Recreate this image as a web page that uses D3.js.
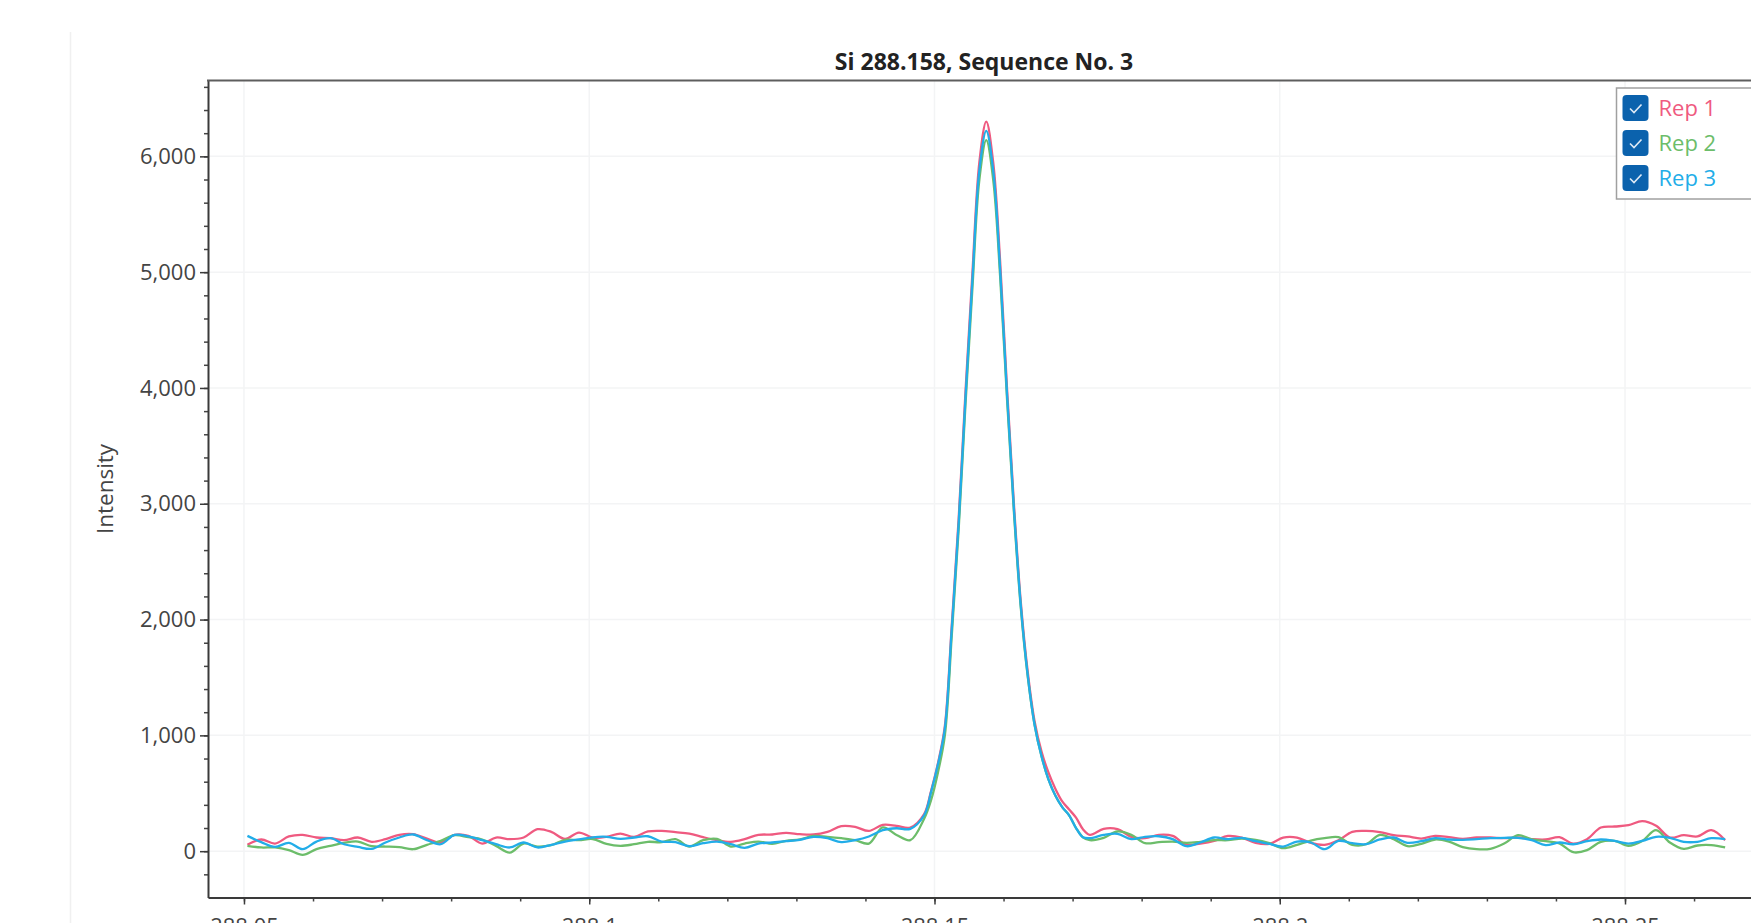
<!DOCTYPE html>
<html>
<head>
<meta charset="utf-8">
<script src="https://cdn.jsdelivr.net/npm/d3@7"></script>
<style>
    body { margin: 0; background: #ffffff; }
    svg { display: block; font-family: "Open Sans", "Noto Sans", sans-serif; }
</style>
</head>
<body>
<svg width="1751" height="923"></svg>
<script>
var svg = d3.select('svg');

//wavelength of every sample (nm), shared by the three replicates
var wavelengths = [
    288.0505, 288.0525, 288.0545, 288.0565, 288.0585, 288.0605, 288.0625, 288.0645, 288.0665, 288.0685,
    288.0705, 288.0725, 288.0745, 288.0765, 288.0785, 288.0805, 288.0825, 288.0845, 288.0865, 288.0885,
    288.0905, 288.0925, 288.0945, 288.0965, 288.0985, 288.1005, 288.1025, 288.1045, 288.1065, 288.1085,
    288.1105, 288.1125, 288.1145, 288.1165, 288.1185, 288.1205, 288.1225, 288.1245, 288.1265, 288.1285,
    288.1305, 288.1325, 288.1345, 288.1365, 288.1385, 288.1405, 288.1425, 288.1445, 288.1465,
    288.1485, 288.1495, 288.1505, 288.1515, 288.1525, 288.1535, 288.1545, 288.1555, 288.1565, 288.1575,
    288.1585, 288.1595, 288.1605, 288.1615, 288.1625, 288.1635, 288.1645, 288.1655, 288.1665, 288.1675,
    288.1685, 288.1695, 288.1705, 288.1715,
    288.1725, 288.1745, 288.1765, 288.1785, 288.1805, 288.1825, 288.1845, 288.1865, 288.1885, 288.1905,
    288.1925, 288.1945, 288.1965, 288.1985, 288.2005, 288.2025, 288.2045, 288.2065, 288.2085, 288.2105,
    288.2125, 288.2145, 288.2165, 288.2185, 288.2205, 288.2225, 288.2245, 288.2265, 288.2285, 288.2305,
    288.2325, 288.2345, 288.2365, 288.2385, 288.2405, 288.2425, 288.2445, 288.2465, 288.2485, 288.2505,
    288.2525, 288.2545, 288.2565, 288.2585, 288.2605, 288.2625, 288.2645
];

//intensity for each replicate, one value per wavelength
var rep1 = [
    55, 101, 66, 127, 141, 118, 112, 95, 118, 81, 104, 141, 147, 109, 75, 141, 132, 66, 118, 104,
    118, 190, 167, 106, 161, 118, 124, 152, 124, 170, 175, 164, 152, 121, 95, 81, 104, 141, 144, 158,
    147, 144, 167, 216, 210, 175, 227, 219, 204,
    320, 520, 760, 1080, 1950, 2870, 3980, 5000, 5950, 6300, 5950, 5100, 4000, 3000, 2150, 1550, 1120, 860, 680, 540,
    430, 360, 290, 190,
    141, 193, 190, 124, 112, 141, 132, 55, 66, 89, 132, 118, 72, 63, 118, 118, 72, 55, 95, 167,
    175, 164, 138, 127, 109, 132, 121, 106, 118, 118, 112, 118, 104, 101, 121, 66, 104, 204, 213, 224,
    259, 219, 118, 138, 127, 181, 95
];
var rep2 = [
    46, 32, 32, 9, -32, 17, 46, 72, 83, 43, 40, 35, 17, 55, 89, 138, 121, 101, 46, -12,
    66, 40, 52, 98, 95, 105, 63, 46, 60, 81, 78, 104, 40, 95, 106, 40, 66, 83, 63, 89,
    101, 132, 124, 112, 95, 66, 205, 140, 95,
    280, 440, 680, 1000, 1860, 2780, 3870, 4870, 5800, 6140, 5800, 4970, 3910, 2930, 2100, 1510, 1090, 820, 620, 480,
    380, 310, 200, 120,
    95, 115, 170, 141, 69, 78, 83, 72, 81, 95, 95, 109, 98, 69, 26, 55, 92, 112, 121, 55,
    60, 141, 104, 43, 63, 101, 83, 35, 17, 20, 66, 138, 101, 86, 66, -9, 9, 81, 89, 46,
    89, 181, 75, 20, 49, 52, 32
];
var rep3 = [
    132, 78, 37, 72, 17, 83, 112, 60, 37, 20, 75, 118, 144, 95, 60, 141, 127, 95, 60, 32,
    75, 32, 55, 83, 101, 120, 124, 106, 118, 129, 83, 78, 43, 69, 83, 60, 29, 66, 75, 86,
    98, 124, 112, 78, 95, 127, 181, 198, 193,
    310, 510, 750, 1060, 1920, 2830, 3930, 4940, 5880, 6220, 5880, 5030, 3950, 2960, 2120, 1520, 1090, 820, 620, 480,
    380, 310, 200, 120,
    112, 141, 150, 104, 124, 129, 104, 43, 75, 118, 104, 115, 86, 63, 40, 83, 75, 17, 89, 69,
    60, 101, 118, 72, 86, 112, 101, 98, 104, 112, 115, 115, 95, 52, 75, 60, 86, 101, 89, 66,
    89, 124, 115, 81, 81, 112, 104
];

var seriesNames = ['Rep 1', 'Rep 2', 'Rep 3'];
var seriesColors = ['#ef5a80', '#6cbd6a', '#22ade8'];
var seriesValues = [rep1, rep2, rep3];

var xTicks = [288.05, 288.1, 288.15, 288.2, 288.25];
var yTicks = [0, 1000, 2000, 3000, 4000, 5000, 6000];

//plot box (right side runs past the edge of the screenshot)
var plotLeft = 208, plotRight = 1760, plotTop = 80.5, plotBottom = 897.5;

var scaleX = d3.scaleLinear().domain([288.04479, 288.26955]).range([plotLeft, plotRight]);
var scaleY = d3.scaleLinear().domain([-400, 6655]).range([plotBottom, plotTop]);

//faint frame line at far left of the window
svg.append('line')
    .attr('x1', 70.5).attr('x2', 70.5)
    .attr('y1', 32).attr('y2', 923)
    .attr('stroke', '#f0f0f0')
    .attr('stroke-width', 1.5);

//grid lines
var grid = svg.append('g');
grid.selectAll('.gx')
    .data(xTicks)
    .enter()
    .append('line')
    .attr('x1', function(d){ return scaleX(d); })
    .attr('x2', function(d){ return scaleX(d); })
    .attr('y1', plotTop)
    .attr('y2', plotBottom)
    .attr('stroke', '#f3f4f5')
    .attr('stroke-width', 1.5);
grid.selectAll('.gy')
    .data(yTicks)
    .enter()
    .append('line')
    .attr('x1', plotLeft)
    .attr('x2', plotRight)
    .attr('y1', function(d){ return scaleY(d); })
    .attr('y2', function(d){ return scaleY(d); })
    .attr('stroke', '#f3f4f5')
    .attr('stroke-width', 1.5);

//the three replicate traces
var line = d3.line()
    .x(function(d){ return scaleX(d[0]); })
    .y(function(d){ return scaleY(d[1]); })
    .curve(d3.curveCatmullRom.alpha(0.5));

svg.append('clipPath').attr('id', 'plotclip')
    .append('rect')
    .attr('x', plotLeft).attr('y', plotTop)
    .attr('width', plotRight - plotLeft).attr('height', plotBottom - plotTop);

svg.append('g')
    .attr('clip-path', 'url(#plotclip)')
    .selectAll('path')
    .data(seriesValues)
    .enter()
    .append('path')
    .attr('d', function(vals){
        return line(wavelengths.map(function(w, i){ return [w, vals[i]]; }));
    })
    .attr('fill', 'none')
    .attr('stroke', function(d, i){ return seriesColors[i]; })
    .attr('stroke-width', 2.3)
    .attr('stroke-linejoin', 'round');

//minor ticks first, then the major axis on top
svg.append('g')
    .attr('transform', 'translate(' + plotLeft + ',0)')
    .call(d3.axisLeft(scaleY).tickValues(d3.range(-200, 6700, 200)).tickSize(4).tickFormat(''))
    .call(function(g){ g.select('.domain').remove(); g.selectAll('line').attr('stroke', '#444').attr('stroke-width', 1.5); });

svg.append('g')
    .attr('transform', 'translate(0,' + plotBottom + ')')
    .call(d3.axisBottom(scaleX).tickValues(d3.range(288.05, 288.27, 0.01)).tickSize(4).tickFormat(''))
    .call(function(g){ g.select('.domain').remove(); g.selectAll('line').attr('stroke', '#444').attr('stroke-width', 1.5); });

var yAxis = svg.append('g')
    .attr('transform', 'translate(' + plotLeft + ',0)')
    .call(d3.axisLeft(scaleY).tickValues(yTicks).tickSize(8).tickSizeOuter(0).tickPadding(4)
        .tickFormat(d3.format(',')));

var xAxis = svg.append('g')
    .attr('transform', 'translate(0,' + plotBottom + ')')
    .call(d3.axisBottom(scaleX).tickValues(xTicks).tickSize(7).tickSizeOuter(0).tickPadding(14)
        .tickFormat(function(d){ return d3.format('.2f')(d).replace(/0$/, ''); }));

[yAxis, xAxis].forEach(function(g){
    g.select('.domain').attr('stroke', '#3a3a3a').attr('stroke-width', 2);
    g.selectAll('.tick line').attr('stroke', '#3a3a3a').attr('stroke-width', 1.5);
    g.selectAll('.tick text')
        .attr('fill', '#444')
        .style('font-size', '22px')
        .style('font-family', '"Open Sans", sans-serif');
});

//top frame line
svg.append('line')
    .attr('x1', plotLeft - 1).attr('x2', 1751)
    .attr('y1', plotTop).attr('y2', plotTop)
    .attr('stroke', '#5e5e5e')
    .attr('stroke-width', 2);

//title and axis title
svg.append('text')
    .text('Si 288.158, Sequence No. 3')
    .attr('x', (plotLeft + plotRight) / 2)
    .attr('y', 69.5)
    .attr('text-anchor', 'middle')
    .attr('font-weight', 'bold')
    .attr('font-size', '23px')
    .attr('fill', '#222');

svg.append('text')
    .text('Intensity')
    .attr('transform', 'translate(113,489)rotate(-90)')
    .attr('text-anchor', 'middle')
    .attr('font-size', '22.5px')
    .attr('fill', '#444');

//legend with check boxes
var legend = svg.append('g').attr('transform', 'translate(1616.5,88)');
legend.append('rect')
    .attr('width', 200)
    .attr('height', 111)
    .attr('fill', '#ffffff')
    .attr('stroke', '#a0a0a0')
    .attr('stroke-width', 1.5);

var items = legend.selectAll('.item')
    .data(seriesNames)
    .enter()
    .append('g')
    .attr('transform', function(d, i){ return 'translate(6,' + (7 + i * 35) + ')'; });

items.append('rect')
    .attr('width', 26)
    .attr('height', 26)
    .attr('rx', 4)
    .attr('fill', '#0b62ad');

items.append('path')
    .attr('d', 'M7.5,13.5 L11.5,17.5 L19,9.5')
    .attr('fill', 'none')
    .attr('stroke', '#dfeaf6')
    .attr('stroke-width', 1.6);

items.append('text')
    .text(function(d){ return d; })
    .attr('x', 36)
    .attr('y', 21)
    .attr('font-size', '22px')
    .attr('fill', function(d, i){ return seriesColors[i]; });
</script>
</body>
</html>
